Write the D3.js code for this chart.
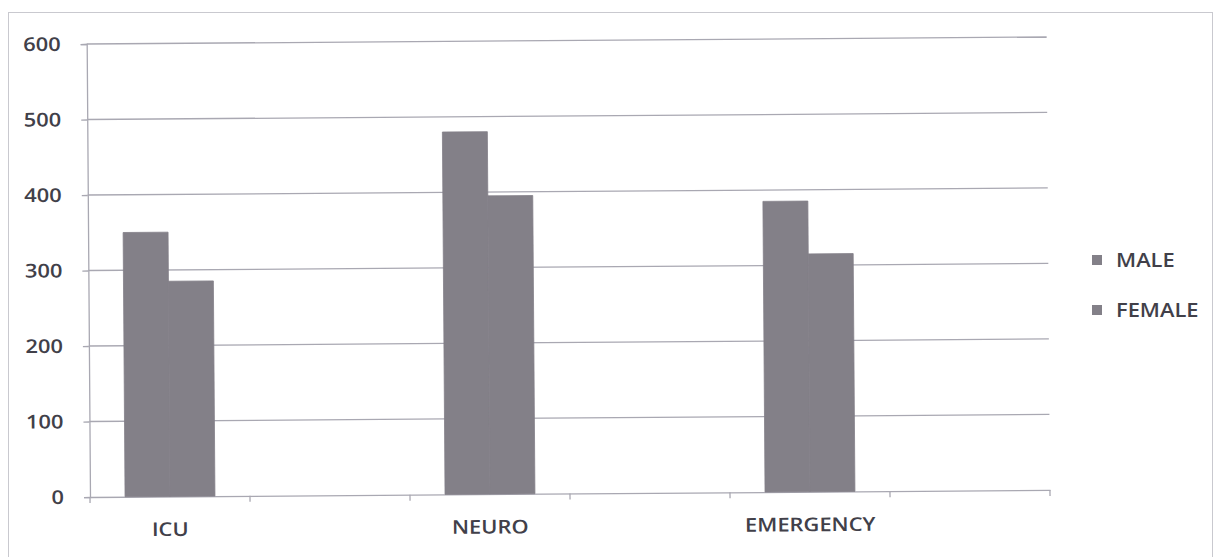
<!DOCTYPE html>
<html><head><meta charset="utf-8">
<script src="https://cdn.jsdelivr.net/npm/d3@7"></script>
<style>body{margin:0;background:#fff}svg{display:block}</style>
</head><body>
<script>
const categories = ["ICU", "", "NEURO", "", "EMERGENCY", ""];
const series = ["MALE", "FEMALE"];
const maleValues = [350, null, 480, null, 385, null];
const femaleValues = [285, null, 395, null, 315, null];
const yTicks = [0, 100, 200, 300, 400, 500, 600];

const W = 1216, H = 557;
const m = {left: 90, right: 166, top: 44, bottom: 60};
const svg = d3.select("body").append("svg").attr("width", W).attr("height", H);
svg.append("rect").attr("x", 8.5).attr("y", 12.5).attr("width", 1204).attr("height", 560)
  .attr("fill", "none").attr("stroke", "#c9c9cf");
const g = svg.append("g").attr("transform", `rotate(-0.42, ${m.left}, ${H - m.bottom})`);

const x = d3.scaleBand().domain(d3.range(categories.length)).range([m.left, W - m.right]);
const y = d3.scaleLinear().domain([0, 600]).range([H - m.bottom, m.top]);
const font = "'Open Sans', sans-serif";
const textColor = "#414049";
const gridColor = "#a9a8b2";
const barColor = "#838088";

function stretch(sel) {
  sel.each(function () {
    const w = this.getComputedTextLength();
    if (w > 0) d3.select(this).attr("textLength", w * 1.15).attr("lengthAdjust", "spacingAndGlyphs");
  });
}

// gridlines
g.append("g").selectAll("line").data(yTicks.filter(d => d > 0)).join("line")
  .attr("x1", m.left).attr("x2", W - m.right).attr("y1", d => y(d)).attr("y2", d => y(d))
  .attr("stroke", gridColor).attr("stroke-width", 1.3);

// y axis
const ya = g.append("g").attr("transform", `translate(${m.left},0)`)
  .call(d3.axisLeft(y).tickValues(yTicks).tickSize(6).tickPadding(20));
ya.select(".domain").attr("stroke", gridColor).attr("stroke-width", 1.3);
ya.selectAll(".tick line").attr("stroke", gridColor).attr("stroke-width", 1.3);
ya.selectAll("text").attr("font-family", font).attr("font-size", 19).attr("font-weight", 600).attr("fill", textColor).call(stretch);

// x axis
const xa = g.append("g").attr("transform", `translate(0,${H - m.bottom})`)
  .call(d3.axisBottom(x).tickFormat(i => categories[i]).tickSize(0).tickPadding(26));
xa.select(".domain").attr("stroke", gridColor).attr("stroke-width", 1.3);
xa.selectAll(".tick line").remove();
xa.selectAll("text").attr("font-family", font).attr("font-size", 19).attr("font-weight", 600).attr("fill", textColor).call(stretch);
xa.append("g").selectAll("line").data(d3.range(categories.length + 1)).join("line")
  .attr("x1", i => m.left + i * x.step()).attr("x2", i => m.left + i * x.step())
  .attr("y1", 0).attr("y2", 6).attr("stroke", gridColor).attr("stroke-width", 1.3);

// bars
const inner = d3.scaleBand().domain(series).range([0, x.bandwidth()]).paddingOuter(0.78);
const rows = categories.map((c, i) => ({i, MALE: maleValues[i], FEMALE: femaleValues[i]}))
  .filter(d => d.MALE != null);
const bars = g.append("g");
rows.forEach(r => {
  series.forEach(s => {
    bars.append("rect")
      .attr("x", x(r.i) + inner(s))
      .attr("width", inner.bandwidth())
      .attr("y", y(r[s]))
      .attr("height", y(0) - y(r[s]))
      .attr("fill", barColor).attr("stroke", barColor).attr("stroke-width", 0.8);
  });
});

// legend
const lg = svg.append("g").attr("transform", "translate(1092,0)");
series.forEach((s, k) => {
  const yy = 260 + k * 50;
  lg.append("rect").attr("x", 0).attr("y", yy - 5).attr("width", 10).attr("height", 10).attr("fill", barColor);
  lg.append("text").attr("x", 24).attr("y", yy).attr("dy", "0.35em")
    .attr("font-family", font).attr("font-size", 19).attr("font-weight", 600).attr("fill", textColor).text(s).call(stretch);
});
</script>
</body></html>
